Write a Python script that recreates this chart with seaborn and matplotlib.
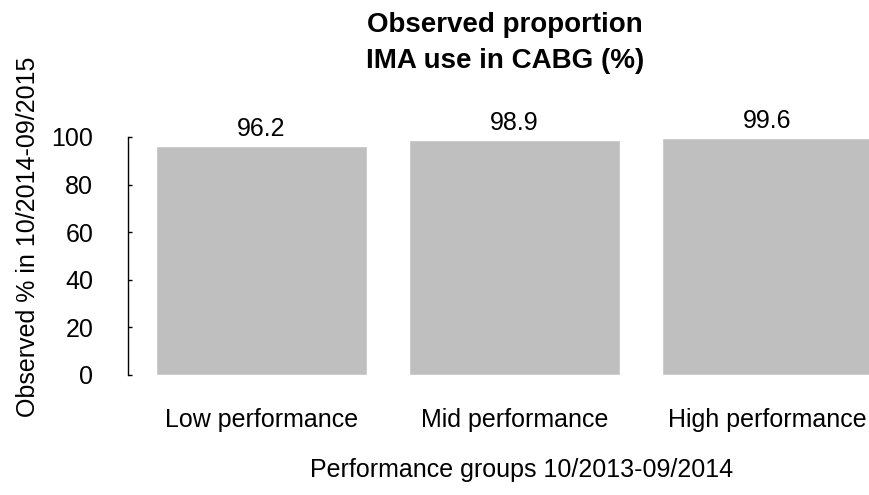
import matplotlib
matplotlib.use('Agg')
import matplotlib.pyplot as plt
import seaborn as sns
import pandas as pd

# data
groups = ['Low performance', 'Mid performance', 'High performance']
observed = [96.2, 98.9, 99.6]
yticks = [0, 20, 40, 60, 80, 100]

df = pd.DataFrame({'group': groups, 'observed': observed})

sns.set_style('white')
plt.rcParams['font.family'] = ['Liberation Sans', 'DejaVu Sans']
plt.rcParams['text.color'] = 'black'
plt.rcParams['xtick.color'] = 'black'
plt.rcParams['ytick.color'] = 'black'
plt.rcParams['axes.labelcolor'] = 'black'

fig = plt.figure(figsize=(8.7, 4.95), dpi=100)
ax = fig.add_axes([128 / 870, 1 - 375 / 495, (870 - 128) / 870, (375 - 137) / 495])

sns.barplot(data=df, x='group', y='observed', color='#BFBFBF', saturation=1,
            width=0.834, ax=ax)

for c in ax.containers:
    ax.bar_label(c, fmt='%.1f', padding=3.5, fontsize=18, color='black')

ax.set_xlim(-0.528, 2.405)
ax.set_ylim(0, 100)
ax.set_yticks(yticks)
ax.set_xlabel('')
ax.set_ylabel('')

for s in ['top', 'right', 'bottom']:
    ax.spines[s].set_visible(False)
ax.spines['left'].set_color('black')
ax.spines['left'].set_linewidth(1)

ax.tick_params(axis='y', direction='in', length=3, width=1, labelsize=18, pad=25, left=True,
               colors='black')
ax.tick_params(axis='x', length=0, labelsize=18, pad=24, colors='black')

fig.text(505 / 870, 1 - 43 / 495, 'Observed proportion\nIMA use in CABG (%)', ha='center', va='center',
         fontsize=20, fontweight='bold', linespacing=1.45)
fig.text(28 / 870, 1 - 237 / 495, 'Observed % in 10/2014-09/2015', rotation=90, ha='center', va='center',
         fontsize=18)
fig.text(522 / 870, 1 - 470 / 495, 'Performance groups 10/2013-09/2014', ha='center', va='center',
         fontsize=18)

fig.savefig('out.png', dpi=100)
